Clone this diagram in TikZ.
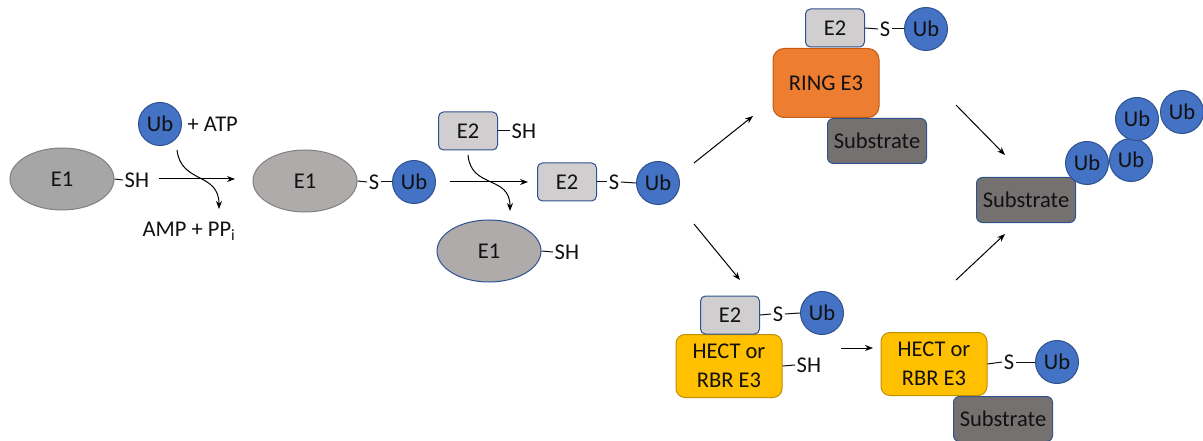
\documentclass[tikz,border=0pt]{standalone}
\usepackage{fontspec}
\setmainfont{Carlito}
\usetikzlibrary{shapes.geometric,arrows.meta}
\definecolor{ubblue}{HTML}{4472C4}
\definecolor{edgeblue}{HTML}{2F528F}
\definecolor{egray}{HTML}{D0CECE}
\definecolor{subgray}{HTML}{767171}
\definecolor{eonea}{HTML}{A6A6A6}
\definecolor{eoneb}{HTML}{AFABAB}
\definecolor{ringor}{HTML}{ED7D31}
\definecolor{ringedge}{HTML}{C55A11}
\definecolor{hectfill}{HTML}{FFC000}
\definecolor{hectedge}{HTML}{BF9000}
\definecolor{txt}{HTML}{111111}
\begin{document}
\begin{tikzpicture}[x=1pt,y=-1pt,
  every node/.style={font=\fontsize{22.5}{25}\selectfont, text=txt},
  ub/.style={circle, fill=ubblue, draw=edgeblue, line width=1pt, minimum size=43pt, inner sep=0pt},
  etwo/.style={rectangle, rounded corners=5pt, fill=egray, draw=edgeblue, line width=1pt, minimum width=59pt, minimum height=38pt, inner sep=0pt},
  subbox/.style={rectangle, rounded corners=6pt, fill=subgray, draw=edgeblue, line width=1pt, minimum width=99pt, minimum height=45pt, inner sep=0pt},
  ringbox/.style={rectangle, rounded corners=11pt, fill=ringor, draw=ringedge, line width=1pt, minimum width=106pt, minimum height=69pt, inner sep=0pt},
  hectbox/.style={rectangle, rounded corners=9pt, fill=hectfill, draw=hectedge, line width=1pt, minimum width=106pt, minimum height=63pt, inner sep=0pt, align=center, font=\fontsize{22.5}{28.5}\selectfont},
  eone/.style={ellipse, line width=1pt, minimum width=104pt, minimum height=62pt, inner sep=0pt},
  lbl/.style={inner sep=1.5pt},
  link/.style={line width=1pt, draw=txt},
  arr/.style={-{Stealth[length=8pt,width=6pt]}, line width=1pt, draw=black}
]
\useasboundingbox (0,0) rectangle (1203,441);

% ---- Step 1: E1-SH + Ub + ATP
\node[eone, fill=eonea, draw=gray] (e1a) at (62,179) {E1};
\node[lbl, anchor=west] (sha) at (123,180) {SH};
\draw[link] (e1a.east) -- (sha.west);
\node[ub] (ub1) at (160,124) {Ub};
\node[lbl, anchor=west] (atp) at (186,124) {+ ATP};
\node[lbl, anchor=west] (amp) at (141,231) {AMP + PP\textsubscript{i}};
\coordinate (a1s) at (159,179);
\coordinate (a1e) at (235,179);
\draw[arr] (a1s) -- (a1e);
\coordinate (c1s) at (177,150);
\coordinate (c1e) at (219,209);
\draw[arr] (c1s) .. controls (181,184) and (219,172) .. (c1e);

% ---- Step 2: E1-S-Ub
\node[eone, fill=eoneb, draw=gray] (e1b) at (305,181) {E1};
\node[lbl] (s1) at (374,182) {S};
\node[ub] (ub2) at (414,182) {Ub};
\draw[link] (e1b.east) -- (s1.west);
\draw[link] (s1.east) -- (ub2.west);
\coordinate (a2s) at (450,182);
\coordinate (a2e) at (528,182);
\draw[arr] (a2s) -- (a2e);
\node[etwo] (e2a) at (468,131) {E2};
\node[lbl, anchor=west] (sh2) at (510,131) {SH};
\draw[link] (e2a.east) -- (sh2.west);
\coordinate (c2s) at (468,155);
\coordinate (c2e) at (510,211);
\draw[arr] (c2s) .. controls (471,189) and (510,175) .. (c2e);
\node[eone, fill=eoneb, draw=edgeblue] (e1c) at (489,251) {E1};
\node[lbl, anchor=west] (sh3) at (553,252) {SH};
\draw[link] (e1c.east) -- (sh3.west);

% ---- Step 3: E2-S-Ub
\node[etwo] (e2b) at (567,182) {E2};
\node[lbl] (s2) at (614,182) {S};
\node[ub] (ub3) at (658,183) {Ub};
\draw[link] (e2b.east) -- (s2.west);
\draw[link] (s2.east) -- (ub3.west);
\coordinate (u1s) at (694,163);
\coordinate (u1e) at (753,116);
\draw[arr] (u1s) -- (u1e);
\coordinate (d1s) at (694,224);
\coordinate (d1e) at (740,280);
\draw[arr] (d1s) -- (d1e);

% ---- RING branch
\node[ringbox] (ring) at (826,83) {RING E3};
\node[subbox] (subr) at (877,141) {Substrate};
\node[etwo] (e2r) at (835,28) {E2};
\node[lbl] (sr) at (885,29) {S};
\node[ub] (ubr) at (926,29) {Ub};
\draw[link] (e2r.east) -- (sr.west);
\draw[link] (sr.east) -- (ubr.west);
\coordinate (r1s) at (956,105);
\coordinate (r1e) at (1005,155);
\draw[arr] (r1s) -- (r1e);

% ---- HECT / RBR branch
\node[hectbox] (hect1) at (729,366) {HECT or\\RBR E3};
\node[etwo] (e2h) at (730,315) {E2};
\node[lbl] (sh1) at (778,314) {S};
\node[ub] (ubh) at (822,313) {Ub};
\draw[link] (e2h.east) -- (sh1.west);
\draw[link] (sh1.east) -- (ubh.west);
\node[lbl, anchor=west] (shh) at (795,365) {SH};
\draw[link] (hect1.east) -- (shh.west);
\coordinate (h1s) at (841,348);
\coordinate (h1e) at (873,348);
\draw[arr] (h1s) -- (h1e);
\node[subbox] (subh) at (1003,419) {Substrate};
\node[hectbox] (hect2) at (934,364) {HECT or\\RBR E3};
\node[lbl] (sh4) at (1009,362) {S};
\node[ub] (ubh2) at (1057,362) {Ub};
\draw[link] (hect2.east) -- (sh4.west);
\draw[link] (sh4.east) -- (ubh2.west);
\coordinate (h2s) at (956,280);
\coordinate (h2e) at (1005,234);
\draw[arr] (h2s) -- (h2e);

% ---- Product: polyubiquitinated substrate
\node[subbox] (subp) at (1026,200) {Substrate};
\node[ub] (p1) at (1087,163) {Ub};
\node[ub] (p2) at (1131,160) {Ub};
\node[ub] (p3) at (1137,119) {Ub};
\node[ub] (p4) at (1182,112) {Ub};
\end{tikzpicture}
\end{document}
